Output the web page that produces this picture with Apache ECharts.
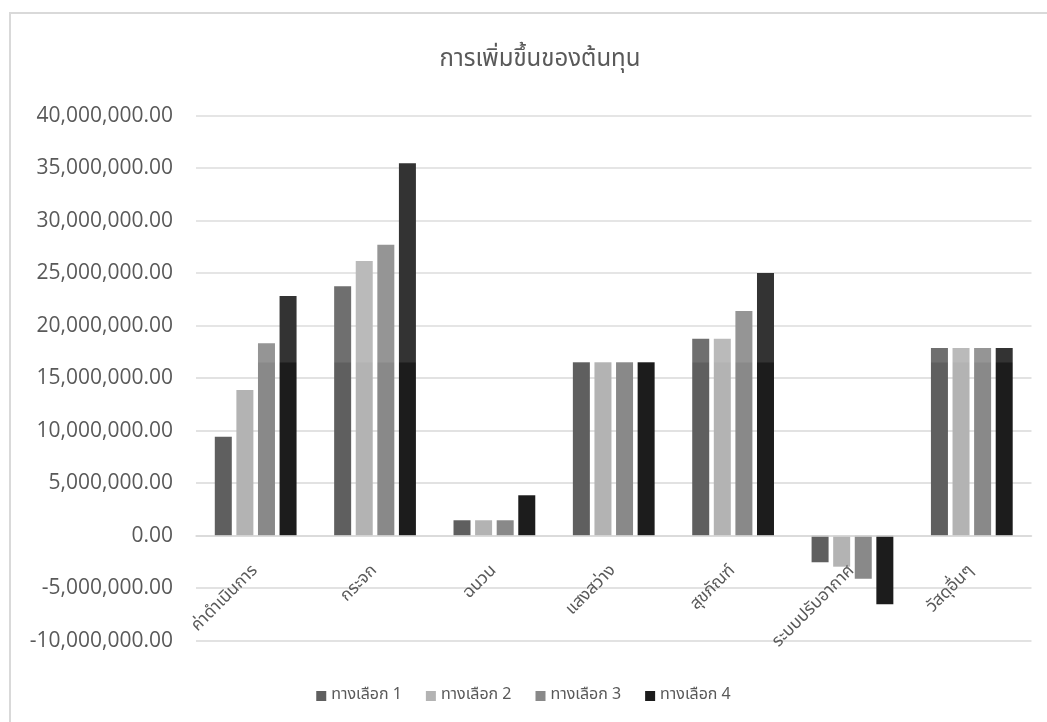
<!DOCTYPE html>
<html>
<head>
<meta charset="utf-8">
<script src="https://cdn.jsdelivr.net/npm/echarts@6/dist/echarts.min.js"></script>
<style>
html,body{margin:0;padding:0;background:#fff;}
#c{width:1047px;height:722px;}
</style>
</head>
<body>
<div id="c"></div>
<script>
const title = 'การเพิ่มขึ้นของต้นทุน';
const categories = ['ค่าดำเนินการ', 'กระจก', 'ฉนวน', 'แสงสว่าง', 'สุขภัณฑ์', 'ระบบปรับอากาศ', 'วัสดุอื่นๆ'];
const seriesNames = ['ทางเลือก 1', 'ทางเลือก 2', 'ทางเลือก 3', 'ทางเลือก 4'];
const option1 = [9430000, 23750000, 1470000, 16510000, 18760000, -2530000, 17880000];
const option2 = [13880000, 26160000, 1470000, 16510000, 18760000, -2950000, 17880000];
const option3 = [18320000, 27710000, 1470000, 16510000, 21400000, -4100000, 17880000];
const option4 = [22830000, 35470000, 3850000, 16510000, 25020000, -6530000, 17880000];
const yMin = -10000000, yMax = 40000000, yStep = 5000000;
const colors = ['#5f5f5f', '#b3b3b3', '#898989', '#1c1c1c'];
const seriesData = [option1, option2, option3, option4];

const chart = echarts.init(document.getElementById('c'), null, {renderer: 'canvas'});
const fmt = v => v.toLocaleString('en-US', {minimumFractionDigits: 2, maximumFractionDigits: 2});
const textColor = '#595959';
const thaiFont = '"Noto Sans Thai", "Noto Sans", "DejaVu Sans", sans-serif';
const gridTop = 115.7, gridBottom = 81.3, H = 722;
const plotH = H - gridTop - gridBottom;
const zeroOffset = plotH * (0 - yMin) / (yMax - yMin);

chart.setOption({
  animation: false,
  backgroundColor: '#fff',
  title: {
    text: title,
    left: 535, top: 44, textAlign: 'center',
    textStyle: {fontSize: 24, fontWeight: 'normal', color: textColor, fontFamily: thaiFont}
  },
  legend: {
    data: seriesNames,
    left: 'center', top: 683,
    itemWidth: 10, itemHeight: 10, itemGap: 24,
    icon: 'rect',
    textStyle: {fontSize: 16, color: textColor, fontFamily: thaiFont}
  },
  grid: {left: 196, right: 15.5, top: gridTop, bottom: gridBottom, containLabel: false},
  xAxis: {
    type: 'category',
    data: categories,
    offset: -zeroOffset,
    z: 10,
    axisLine: {show: true, onZero: false, lineStyle: {color: '#d9d9d9', width: 1.5}},
    axisTick: {show: false},
    axisLabel: {rotate: 45, margin: 33, fontSize: 17, color: textColor, fontFamily: thaiFont, interval: 0}
  },
  yAxis: {
    type: 'value',
    min: yMin, max: yMax, interval: yStep,
    axisLine: {show: false},
    axisTick: {show: false},
    splitLine: {lineStyle: {color: '#d9d9d9', width: 1.5}},
    axisLabel: {formatter: fmt, fontSize: 21, color: textColor, margin: 23, fontFamily: '"Open Sans", sans-serif'}
  },
  series: seriesNames.map((n, i) => ({
    name: n, type: 'bar', data: seriesData[i],
    barWidth: 17, barGap: '27%',
    itemStyle: {color: colors[i]}
  }))
});

function addGraphics() {
  const yTop = chart.convertToPixel({yAxisIndex: 0}, yMax);
  const ySplit = chart.convertToPixel({yAxisIndex: 0}, 16500000);
  const xL = chart.convertToPixel({xAxisIndex: 0}, categories[0]) - 70;
  const xR = chart.convertToPixel({xAxisIndex: 0}, categories[categories.length - 1]) + 60;
  chart.setOption({
    graphic: [
      {type: 'rect', shape: {x: 10, y: 13, width: 1060, height: 740}, style: {fill: 'none', stroke: '#d9d9d9', lineWidth: 2}, silent: true, z: 0},
      {type: 'rect', shape: {x: xL, y: yTop - 2, width: xR - xL, height: ySplit - yTop + 2}, style: {fill: 'rgba(255,255,255,0.1)'}, silent: true, z: 100}
    ]
  });
}
addGraphics();
</script>
</body>
</html>
